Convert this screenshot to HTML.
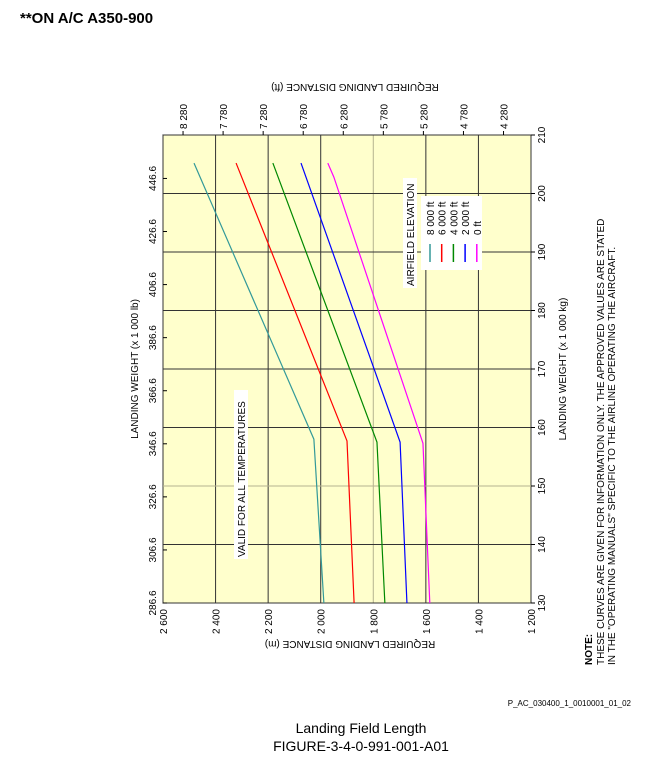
<!DOCTYPE html>
<html><head><meta charset="utf-8"><style>
body{margin:0;background:#fff}
svg{display:block;font-family:"Liberation Sans",sans-serif}
</style></head><body>
<svg id="chart" width="652" height="763" viewBox="0 0 652 763" xmlns="http://www.w3.org/2000/svg">
<text x="20" y="23" font-size="15" font-weight="bold">**ON A/C A350-900</text>
<rect x="163" y="135" width="368" height="468" fill="#ffffcc" stroke="#000" stroke-width="1"/>
<g id="grid"></g>
<g id="series"></g>
<g id="axes"></g>
<text transform="translate(355,84) rotate(180)" text-anchor="middle" font-size="10">REQUIRED LANDING DISTANCE (ft)</text>
<text transform="translate(350,641) rotate(180)" text-anchor="middle" font-size="10">REQUIRED LANDING DISTANCE (m)</text>
<text transform="translate(138,369) rotate(-90)" text-anchor="middle" font-size="10">LANDING WEIGHT (x 1 000 lb)</text>
<text transform="translate(566,369) rotate(-90)" text-anchor="middle" font-size="10">LANDING WEIGHT (x 1 000 kg)</text>
<rect x="234" y="390" width="14" height="169" fill="#fff"/>
<text transform="translate(245,557) rotate(-90)" font-size="10">VALID FOR ALL TEMPERATURES</text>
<rect x="403" y="178" width="14" height="110" fill="#fff"/>
<text transform="translate(414,286) rotate(-90)" font-size="10">AIRFIELD ELEVATION</text>
<g id="legend"></g>
<text transform="translate(592,665) rotate(-90)" font-size="10" font-weight="bold">NOTE:</text>
<text transform="translate(604,665) rotate(-90)" font-size="10">THESE CURVES ARE GIVEN FOR INFORMATION ONLY. THE APPROVED VALUES ARE STATED</text>
<text transform="translate(615,665) rotate(-90)" font-size="10">IN THE "OPERATING MANUALS" SPECIFIC TO THE AIRLINE OPERATING THE AIRCRAFT.</text>
<text x="631" y="706" text-anchor="end" font-size="8">P_AC_030400_1_0010001_01_02</text>
<text x="361" y="733" text-anchor="middle" font-size="14">Landing Field Length</text>
<text x="361" y="751" text-anchor="middle" font-size="14">FIGURE-3-4-0-991-001-A01</text>
</svg>
<script>
const distTicksM=[2600,2400,2200,2000,1800,1600,1400,1200];
const weightTicksT=[130,140,150,160,170,180,190,200,210];
const weightTicksLb=[286.6,306.6,326.6,346.6,366.6,386.6,406.6,426.6,446.6];
const distTicksFt=[8280,7780,7280,6780,6280,5780,5280,4780,4280];
const seriesNames=["8 000 ft","6 000 ft","4 000 ft","2 000 ft","0 ft"];
const seriesColors=["#339999","#ff0000","#008800","#0000ff","#ff00ff"];
const weights8000=[130,158,205.2];
const dist8000=[1988,2026,2482];
const weights6000=[130,157.7,205.2];
const dist6000=[1873,1900,2322];
const weights4000=[130,157.5,205.2];
const dist4000=[1756,1786,2182];
const weights2000=[130,157.5,205.2];
const dist2000=[1672,1698,2075];
const weights0=[130,157.3,202.8,205.2];
const dist0=[1585,1611,1950,1973];
const seriesWeights=[weights8000,weights6000,weights4000,weights2000,weights0];
const seriesDist=[dist8000,dist6000,dist4000,dist2000,dist0];

const X0=163,X1=531,Y0=603,Y1=135;
const xOf=d=>X0+(2600-d)/(2600-1200)*(X1-X0);
const yOf=w=>Y0-(w-130)/(210-130)*(Y0-Y1);
const NS="http://www.w3.org/2000/svg";
function mk(tag,attrs,parent){const e=document.createElementNS(NS,tag);for(const k in attrs)e.setAttribute(k,attrs[k]);parent.appendChild(e);return e;}
const grid=document.getElementById('grid'),axes=document.getElementById('axes'),ser=document.getElementById('series'),leg=document.getElementById('legend');

distTicksM.forEach(d=>{
  const x=xOf(d);
  const l=mk('line',{x1:x,x2:x,y1:Y1,y2:Y0,stroke:d===1800?'#b5b38f':'#333','stroke-width':1},grid);
  
  
  const t=mk('text',{transform:`translate(${x+4},609) rotate(-90)`,'text-anchor':'end','font-size':10},axes);
  t.textContent=d.toLocaleString('en').replace(',',' ');
  
  
});
weightTicksT.forEach(w=>{
  const y=yOf(w);
  const l=mk('line',{x1:X0,x2:X1,y1:y,y2:y,stroke:w===150?'#b5b38f':'#333','stroke-width':1},grid);
  
  
  mk('line',{x1:X1,x2:X1+4,y1:y,y2:y,stroke:'#000'},axes);
  const t=mk('text',{transform:`translate(${X1+14},${y}) rotate(-90)`,'text-anchor':'middle','font-size':10},axes);
  t.textContent=w;
  
  
});
weightTicksLb.forEach(lb=>{
  const y=yOf(lb*0.45359);
  mk('line',{x1:X0,x2:X0+4,y1:y,y2:y,stroke:'#000'},axes);
  const t=mk('text',{transform:`translate(${X0-7},${y}) rotate(-90)`,'text-anchor':'middle','font-size':10},axes);
  t.textContent=lb;
  
  
});
distTicksFt.forEach(ft=>{
  const x=xOf(ft*0.3048);
  mk('line',{x1:x,x2:x,y1:Y1,y2:Y1-4,stroke:'#000'},axes);
  const t=mk('text',{transform:`translate(${x+4},129) rotate(-90)`,'font-size':10},axes);
  t.textContent=ft.toLocaleString('en').replace(',',' ');
  
  
});
seriesNames.forEach((n,i)=>{
  const pts=seriesWeights[i].map((w,j)=>xOf(seriesDist[i][j])+','+yOf(w)).join(' ');
  const p=mk('polyline',{points:pts,fill:'none',stroke:seriesColors[i],'stroke-width':1.2},ser);
  
  
});
mk('rect',{x:421,y:196,width:61,height:74,fill:'#fff'},leg);
seriesNames.forEach((n,i)=>{
  const x=430+i*11.7;
  const l=mk('line',{x1:x,x2:x,y1:244,y2:262,stroke:seriesColors[i],'stroke-width':1.5},leg);
  
  
  const t=mk('text',{transform:`translate(${x+4},235) rotate(-90)`,'text-anchor':'start','font-size':10},leg);
  t.textContent=n;
  
  
});
</script>
</body></html>
